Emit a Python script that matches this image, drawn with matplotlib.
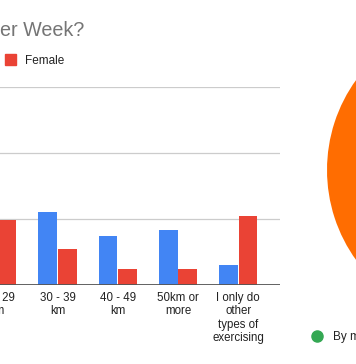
import matplotlib
matplotlib.use('Agg')
import matplotlib.pyplot as plt
from matplotlib.patches import Patch
from matplotlib.lines import Line2D

plt.rcParams['font.family'] = ['Liberation Sans', 'DejaVu Sans']

categories = ['20 - 29\nkm', '30 - 39\nkm', '40 - 49\nkm', '50km or\nmore',
              'I only do\nother\ntypes of\nexercising']
male = [12.0, 11.1, 7.5, 8.4, 3.0]
female = [9.8, 5.4, 2.4, 2.5, 10.5]
series_names = ['Male', 'Female']

pie_labels = ['Alone', 'With friends', 'In a club', 'By myself', 'Other']
pie_values = [25, 12, 8, 15, 40]

blue = '#4285f4'
red = '#ea4335'
pie_colors = ['#4285f4', '#ea4335', '#fbbc04', '#34a853', '#ff6d01']

W, H = 356, 364
fig = plt.figure(figsize=(W / 100, H / 100), dpi=100)

# bar chart (cut off on the left)
ax = fig.add_axes([-45 / W, 79 / H, 325.4 / W, 198 / H])
pos = list(range(len(categories)))
bw = 0.31
ax.bar([p - 0.162 for p in pos], male, bw, color=blue, zorder=3)
ax.bar([p + 0.162 for p in pos], female, bw, color=red, zorder=3)
ax.set_xlim(-0.7, 4.70)
ax.set_ylim(0, 30)
ax.set_yticks([10, 20, 30])
ax.yaxis.grid(True, color='#cccccc', linewidth=0.9, zorder=0)
ax.axhline(0, color='#555555', linewidth=1.3, zorder=4)
ax.set_xticks(pos)
ax.set_xticklabels(categories, fontsize=8.3, color='#222222', linespacing=1.16)
ax.tick_params(axis='x', length=0, pad=5)
ax.tick_params(axis='y', length=0, labelleft=False)
for s in ax.spines.values():
    s.set_visible(False)

fig.text(84 / W, 1 - 31 / H, 'How Many Kilometres Do You Run per Week?',
         ha='right', va='center', fontsize=14.2, color='#757575')

handles = [Patch(color=blue), Patch(color=red)]
fig.legend(handles, series_names, loc='center right', ncol=2, frameon=False,
           bbox_to_anchor=(70.5 / W, 1 - 60.5 / H), borderpad=0,
           handlelength=0.95, handleheight=0.95, handletextpad=0.75,
           columnspacing=1.5, prop={'size': 8.5}, labelcolor='#222222')

# pie chart (cut off on the right)
r = 154
pax = fig.add_axes([(481 - r) / W, (H - 170 - r) / H, 2 * r / W, 2 * r / H])
pax.pie(pie_values, colors=pie_colors, startangle=90, counterclock=False,
        radius=1)
pax.set_xlim(-1, 1)
pax.set_ylim(-1, 1)
pax.axis('off')

ph = [Line2D([], [], marker='o', linestyle='none', color=pie_colors[3],
             markersize=8)]
fig.legend(ph, [pie_labels[3]], loc='center left', frameon=False,
           bbox_to_anchor=(305.5 / W, 1 - 337 / H), borderpad=0,
           handlelength=1.0, handletextpad=0.8, prop={'size': 8.5},
           labelcolor='#222222')

fig.savefig('out.png', dpi=100)
